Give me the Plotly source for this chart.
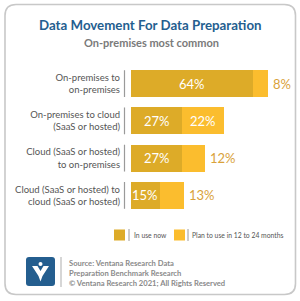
import plotly.graph_objects as go

categories = ["On-premises to<br>on-premises",
              "On-premises to cloud<br>(SaaS or hosted)",
              "Cloud (SaaS or hosted)<br>to on-premises",
              "Cloud (SaaS or hosted) to<br>cloud (SaaS or hosted)"]
in_use_now = [64, 27, 27, 15]
plan_to_use = [8, 22, 12, 13]
series_names = ["In use now", "Plan to use in 12 to 24 months"]

W, H = 300, 301
def px(x): return x / W
def py(y): return 1 - y / H

C_DARK = "#DDAB28"
C_LIGHT = "#FBBD2E"
C_OUT = "#D9A23A"
FONT = "Lato"

idx = list(range(len(categories)))

fig = go.Figure()
fig.add_trace(go.Bar(
    y=idx, x=in_use_now, orientation="h", name=series_names[0],
    marker=dict(color=C_DARK, line=dict(width=0)), width=0.72,
    hoverinfo="skip", cliponaxis=False))
fig.add_trace(go.Bar(
    y=idx, x=plan_to_use, orientation="h", name=series_names[1],
    marker=dict(color=C_LIGHT, line=dict(width=0)), width=0.72,
    hoverinfo="skip", cliponaxis=False))

annotations = []
# value labels placed from the data
for i, (a, b) in enumerate(zip(in_use_now, plan_to_use)):
    annotations.append(dict(xref="x", yref="y", x=a / 2, y=i, text=f"{a}%",
                            xanchor="center", font=dict(size=13, color="white", family=FONT)))
    if b >= 18:
        annotations.append(dict(xref="x", yref="y", x=a + b / 2, y=i, text=f"{b}%",
                                xanchor="center", font=dict(size=13, color="white", family=FONT)))
    else:
        annotations.append(dict(xref="x", yref="y", x=a + b, y=i, text=f"{b}%", xshift=3,
                                xanchor="left", font=dict(size=13, color=C_OUT, family=FONT)))

shapes = []
# outer rounded frame
x0, x1, y0, y1, r = 5, 295.5, 4.5, 294.5, 11
path = (f"M {px(x0+r)},{py(y0)} L {px(x1-r)},{py(y0)} "
        f"Q {px(x1)},{py(y0)} {px(x1)},{py(y0+r)} L {px(x1)},{py(y1-r)} "
        f"Q {px(x1)},{py(y1)} {px(x1-r)},{py(y1)} L {px(x0+r)},{py(y1)} "
        f"Q {px(x0)},{py(y1)} {px(x0)},{py(y1-r)} L {px(x0)},{py(y0+r)} "
        f"Q {px(x0)},{py(y0)} {px(x0+r)},{py(y0)} Z")
shapes.append(dict(type="path", path=path, xref="paper", yref="paper",
                   line=dict(color="#C8C8C8", width=1.6), fillcolor="rgba(0,0,0,0)", layer="below"))
# category separators
for i in idx:
    shapes.append(dict(type="line", xref="paper", yref="y", x0=px(124.5), x1=px(124.5),
                       y0=i - 0.36, y1=i + 0.36, line=dict(color="#9A9A9A", width=1.2)))
# legend
leg_y = 235
for sx, lx, col in [(114, 129, C_DARK), (174, 188, C_LIGHT)]:
    shapes.append(dict(type="rect", xref="paper", yref="paper", x0=px(sx), x1=px(sx + 11),
                       y0=py(leg_y + 5.5), y1=py(leg_y - 5.5), fillcolor=col, line=dict(width=0)))
    shapes.append(dict(type="line", xref="paper", yref="paper", x0=px(lx), x1=px(lx),
                       y0=py(leg_y + 6), y1=py(leg_y - 6), line=dict(color="#9A9A9A", width=1)))
# footer separator
shapes.append(dict(type="line", xref="paper", yref="paper", x0=px(61), x1=px(61),
                   y0=py(257), y1=py(287), line=dict(color="#BBBBBB", width=1.2)))
# logo
lx0, lx1, ly0, ly1, lr = 26, 55, 257, 286, 3
lpath = (f"M {px(lx0+lr)},{py(ly0)} L {px(lx1-lr)},{py(ly0)} "
         f"Q {px(lx1)},{py(ly0)} {px(lx1)},{py(ly0+lr)} L {px(lx1)},{py(ly1-lr)} "
         f"Q {px(lx1)},{py(ly1)} {px(lx1-lr)},{py(ly1)} L {px(lx0+lr)},{py(ly1)} "
         f"Q {px(lx0)},{py(ly1)} {px(lx0)},{py(ly1-lr)} L {px(lx0)},{py(ly0+lr)} "
         f"Q {px(lx0)},{py(ly0)} {px(lx0+lr)},{py(ly0)} Z")
shapes.append(dict(type="path", path=lpath, xref="paper", yref="paper",
                   fillcolor="#245E8F", line=dict(width=0)))
vpts = [(32, 266), (37.5, 266), (40.5, 271), (43.5, 266), (49, 266),
        (42.5, 276), (40.5, 281.5), (38.5, 276)]
vpath = "M " + " L ".join(f"{px(a)},{py(b)}" for a, b in vpts) + " Z"
shapes.append(dict(type="path", path=vpath, xref="paper", yref="paper",
                   fillcolor="white", line=dict(width=0)))
shapes.append(dict(type="circle", xref="paper", yref="paper", x0=px(38.5), x1=px(42.5),
                   y0=py(266), y1=py(262), fillcolor="white", line=dict(width=0)))

text_ann = [
    dict(text="<b>Data Movement For Data Preparation</b>", x=px(150.5), y=py(25),
         font=dict(size=13.3, color="#245E8F", family=FONT)),
    dict(text="<b>On-premises most common</b>", x=px(151), y=py(43),
         font=dict(size=11, color="#7A7A7A", family=FONT)),
    dict(text=series_names[0], x=px(132), y=py(leg_y), xanchor="left",
         font=dict(size=6.8, color="#555555", family=FONT)),
    dict(text=series_names[1], x=px(190), y=py(leg_y), xanchor="left",
         font=dict(size=6.8, color="#555555", family=FONT)),
    dict(text="<b>Source: Ventana Research Data<br>Preparation Benchmark Research<br>"
              "© Ventana Research 2021; All Rights Reserved</b>",
         x=px(66.5), y=py(273), xanchor="left", align="left",
         font=dict(size=7.6, color="#8A8A8A", family=FONT)),
]
for a in text_ann:
    a.setdefault("xanchor", "center")
    a.update(xref="paper", yref="paper")
annotations += text_ann
for a in annotations:
    a.update(yanchor="middle", showarrow=False)

fig.update_layout(
    width=W, height=H, margin=dict(l=0, r=0, t=0, b=0),
    paper_bgcolor="white", plot_bgcolor="white",
    barmode="stack", showlegend=False, bargap=0,
    xaxis=dict(domain=[px(131), 1], range=[0, 169 / 1.9], visible=False, fixedrange=True),
    yaxis=dict(domain=[py(214), py(65)], range=[3.5, -0.5], tickvals=idx, ticktext=categories,
               showline=False, showgrid=False, zeroline=False, ticks="",
               ticklabelstandoff=10,
               tickfont=dict(size=9.5, color="#555555", family=FONT)),
    shapes=shapes, annotations=annotations,
)
fig.write_html("out.html")
